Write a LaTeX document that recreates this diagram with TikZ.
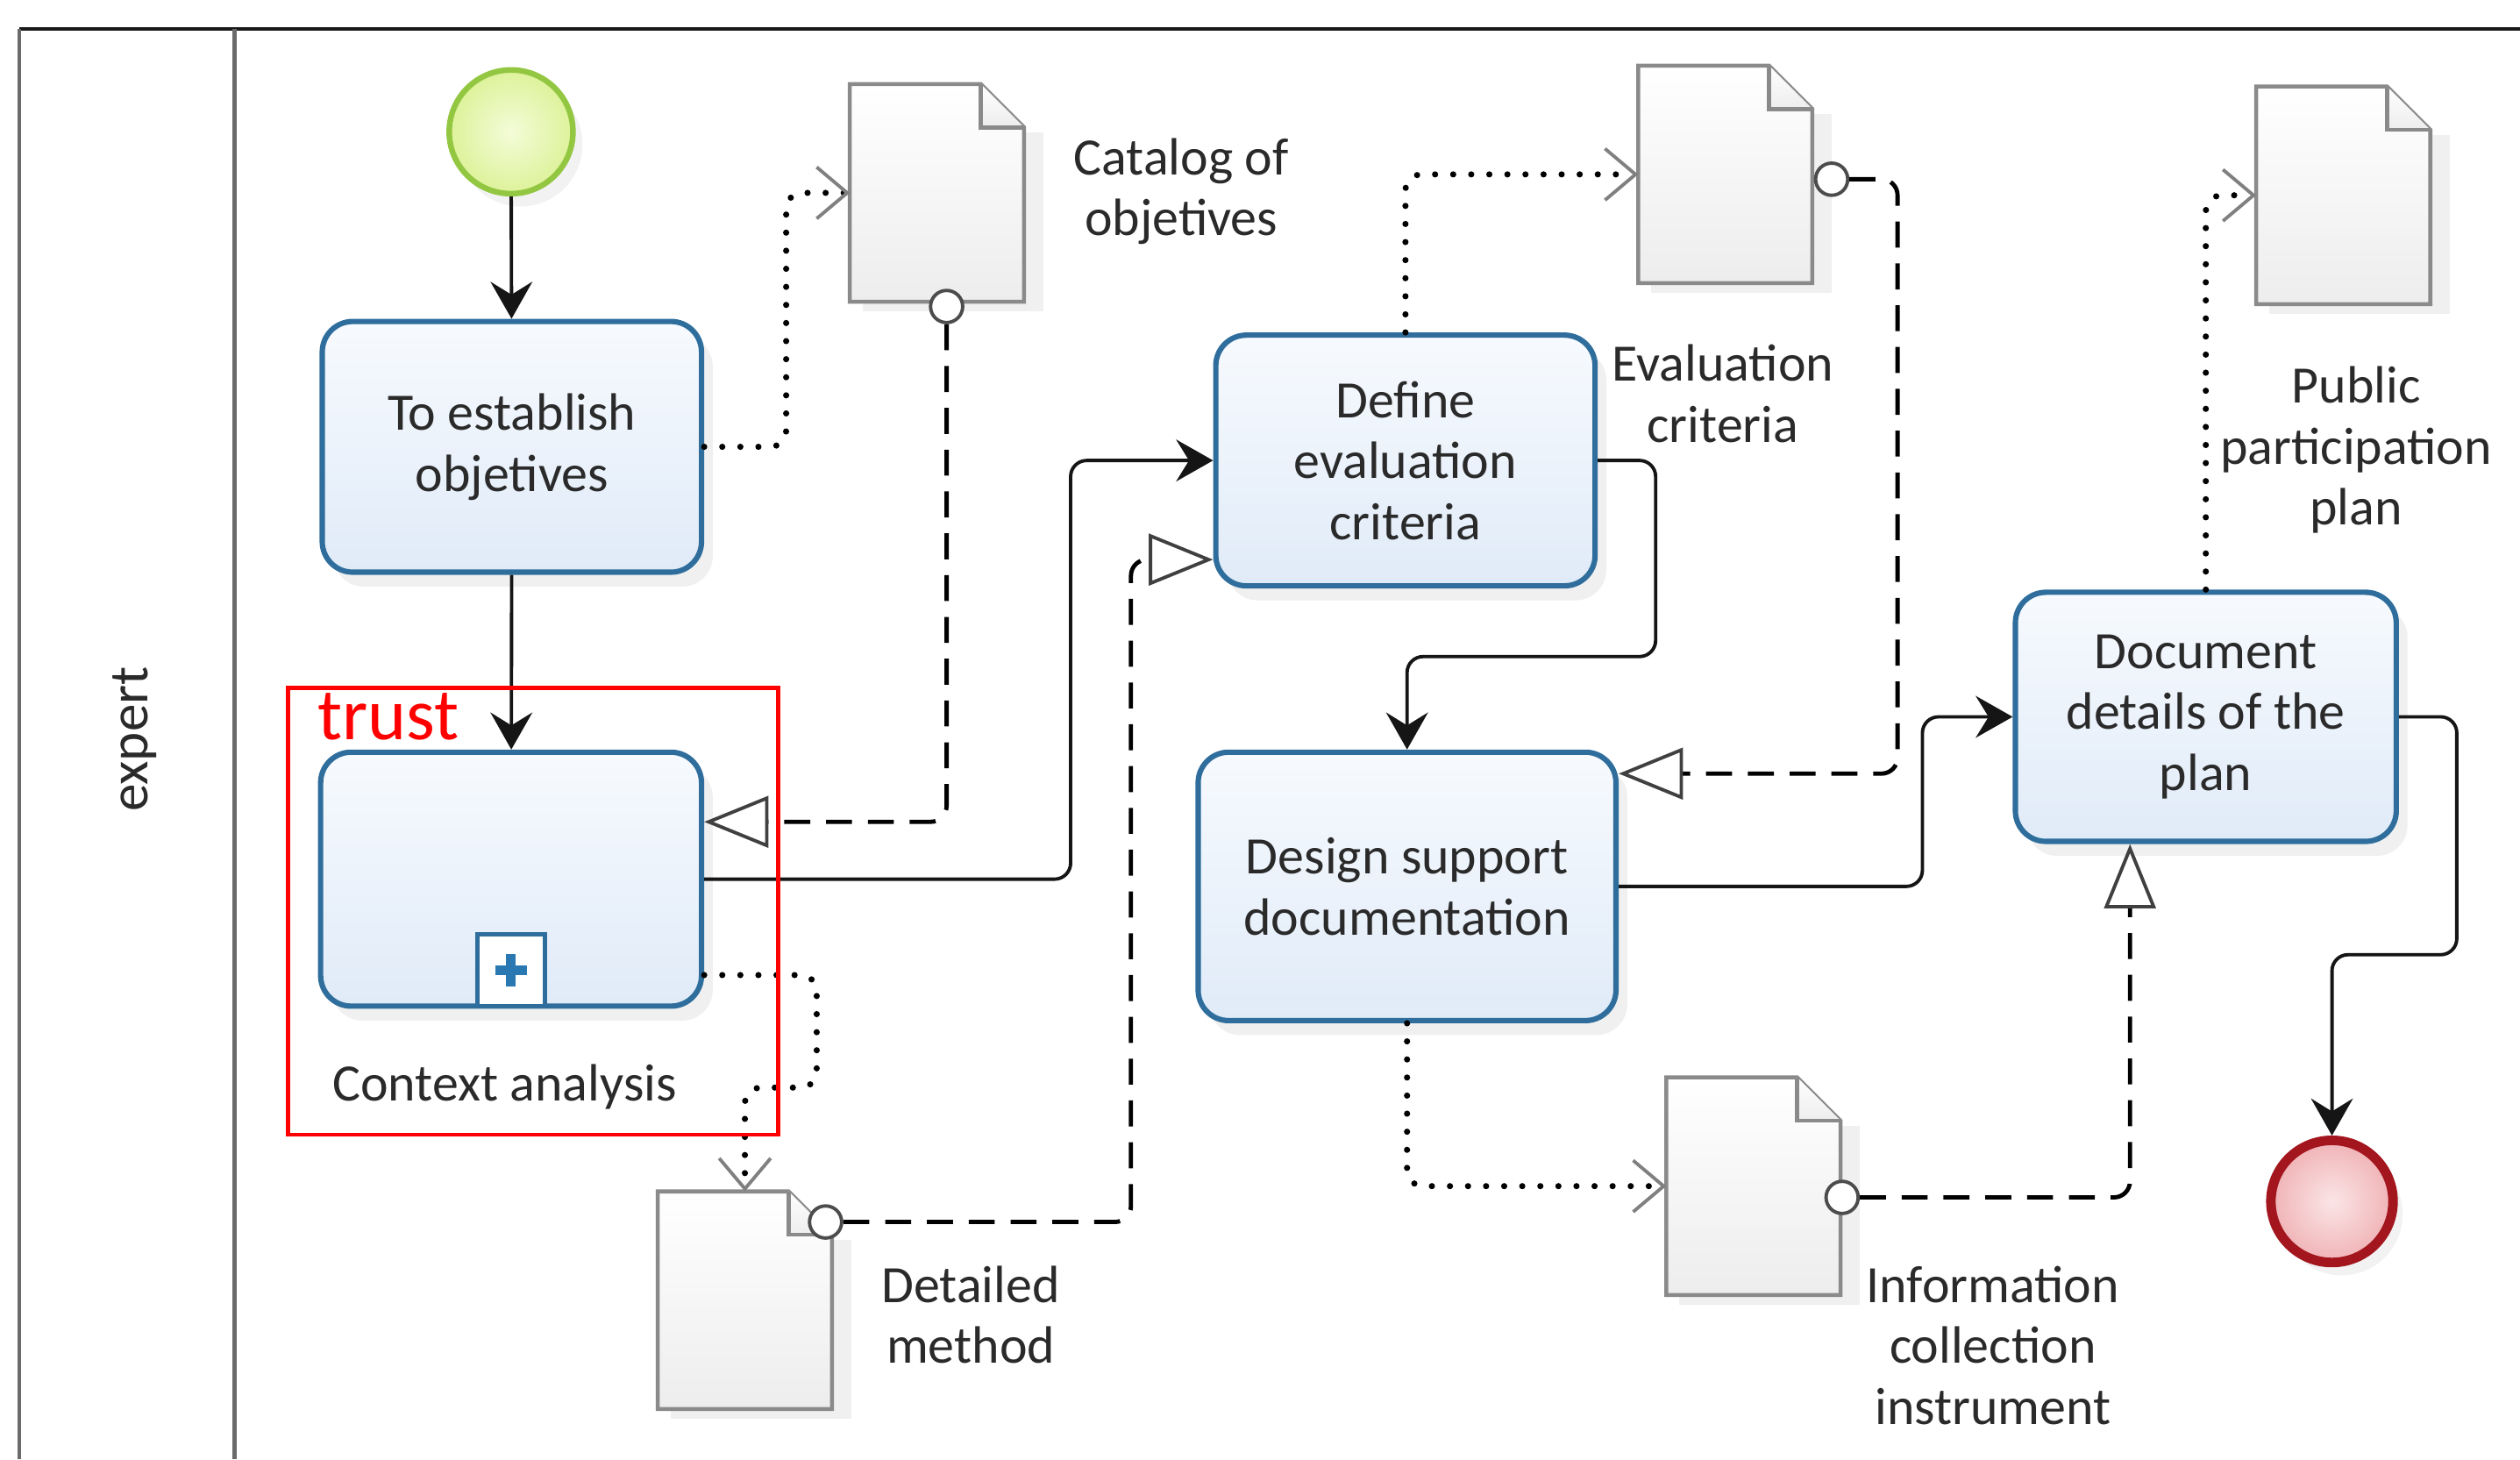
\documentclass[tikz,border=0pt]{standalone}
\usepackage{fontspec}
\setmainfont{Carlito}
\usetikzlibrary{arrows.meta,calc,shadows}

\definecolor{taskbd}{HTML}{2F6E9C}
\definecolor{tasktop}{HTML}{F7FAFE}
\definecolor{taskbot}{HTML}{E0EBF8}
\definecolor{docbd}{HTML}{8A8A8A}
\definecolor{docfill}{HTML}{EDEDED}
\definecolor{startbd}{HTML}{93C741}
\definecolor{startin}{HTML}{F4FCD8}
\definecolor{startout}{HTML}{DDF29A}
\definecolor{endbd}{HTML}{A3161E}
\definecolor{endin}{HTML}{FBE5E6}
\definecolor{endout}{HTML}{F0B3B6}
\definecolor{txt}{HTML}{2A2A2A}
\definecolor{lanebd}{HTML}{6A6A6A}
\definecolor{flow}{HTML}{151515}
\definecolor{plusblue}{HTML}{2A78B2}

\newcommand{\docshape}[1]{%
  \fill[black, opacity=0.06] ($(#1.south west)+(8,6)$) rectangle ($(#1.north east)+(12,30)$);
  \draw[docline] (#1.south west) -- (#1.north west) -- ($(#1.north east)+(-27,0)$) -- ($(#1.north east)+(0,27)$) -- (#1.south east) -- cycle;
  \draw[docline, fill=white] ($(#1.north east)+(-27,0)$) -- ($(#1.north east)+(-27,27)$) -- ($(#1.north east)+(0,27)$);
}

\begin{document}
\begin{tikzpicture}[x=0.1mm, y=-0.1mm,
  font=\fontsize{9.3}{10.8}\selectfont, text=txt,
  task/.style={rectangle, rounded corners=1.9mm, draw=taskbd, line width=0.95pt,
    top color=tasktop, bottom color=taskbot, align=center, inner sep=1mm,
    drop shadow={opacity=0.12, shadow xshift=0.7mm, shadow yshift=-0.9mm}},
  docnode/.style={rectangle, minimum width=10.7mm, minimum height=13.4mm, inner sep=0},
  docline/.style={draw=docbd, line width=0.7pt, top color=white, bottom color=docfill},
  lbl/.style={align=center, inner sep=0},
  port/.style={circle, draw=black!70, fill=white, line width=0.6pt, minimum size=2mm, inner sep=0},
  seq/.style={draw=flow, line width=0.6pt, rounded corners=1mm,
    -{Stealth[length=2.3mm, width=2.6mm, inset=0.8mm]}},
  dout/.style={draw=black, line width=1.1pt, line cap=round, dash pattern=on 0pt off 3.2pt,
    rounded corners=1mm, -{Straight Barb[length=1.9mm, width=3.2mm, color=gray, line width=0.6pt, line cap=butt]}},
  din/.style={draw=black, line width=0.75pt, dash pattern=on 4.6pt off 2.8pt, rounded corners=1mm,
    -{Triangle[length=4mm, width=3.2mm, fill=white, color=black!75, line width=0.6pt]}}
]
\useasboundingbox (0,0) rectangle (1568,908);

% pool and lane
\draw[draw=black!90, line width=0.75pt] (12,18) -- (1568,18);
\draw[draw=lanebd, line width=0.75pt] (12,18) -- (12,908);
\draw[draw=lanebd, line width=0.75pt] (146,18) -- (146,908);
\node[rotate=90, font=\fontsize{9.8}{11}\selectfont] (lane) at (84,460) {expert};

% data objects
\node[docnode] (cat) at (583,120) {};
\node[docnode] (ev) at (1073.5,108.5) {};
\node[docnode] (pub) at (1458,121.5) {};
\node[docnode] (dm) at (463.5,809) {};
\node[docnode] (info) at (1091,738) {};
\docshape{cat}
\docshape{ev}
\docshape{pub}
\docshape{dm}
\docshape{info}

\node[lbl] (catl) at (735,119) {Catalog of\\objetives};
\node[lbl] (evl) at (1072,245) {Evaluation\\criteria};
\node[lbl] (publ) at (1466,280) {Public\\participation\\plan};
\node[lbl] (dml) at (604,818) {Detailed\\method};
\node[lbl] (infol) at (1240,837) {Information\\collection\\instrument};

% events
\node[circle, minimum size=7.7mm, inner sep=0, draw=startbd, line width=1pt,
  inner color=startin, outer color=startout,
  drop shadow={opacity=0.1, shadow xshift=0.6mm, shadow yshift=-0.8mm}] (start) at (318,82) {};
\node[circle, minimum size=7.6mm, inner sep=0, draw=endbd, line width=1.7pt,
  inner color=endin, outer color=endout,
  drop shadow={opacity=0.1, shadow xshift=0.6mm, shadow yshift=-0.8mm}] (end) at (1451,747.5) {};

% tasks
\node[task, minimum width=23.6mm, minimum height=15.6mm] (t1) at (318.5,278) {To establish\\objetives};
\node[task, minimum width=23.7mm, minimum height=15.8mm] (t2) at (318,547) {};
\node[task, minimum width=23.6mm, minimum height=15.6mm] (t3) at (874.5,286.5) {Define\\evaluation\\criteria};
\node[task, minimum width=26mm, minimum height=16.7mm] (t4) at (875.5,551.5) {Design support\\documentation};
\node[task, minimum width=23.7mm, minimum height=15.5mm] (t5) at (1372.5,446) {Document\\details of the\\plan};

% sub-process marker
\node[draw=taskbd, line width=0.8pt, fill=white, minimum width=4.2mm, minimum height=4.5mm,
  inner sep=0, anchor=south] (plus) at (t2.south) {};
\draw[plusblue, line width=1.7pt] ($(plus.center)+(-10,0)$) -- ($(plus.center)+(10,0)$);
\draw[plusblue, line width=1.7pt] ($(plus.center)+(0,-10)$) -- ($(plus.center)+(0,10)$);
\node[lbl] (cal) at (314,676) {Context analysis};

% ports (data input sources)
\node[port] (cc) at ($(cat.south)+(6,3)$) {};
\node[port] (dmc) at ($(dm.north east)+(-4,19)$) {};
\node[port] (evc) at ($(ev.east)+(12,3)$) {};
\node[port] (icc) at ($(info.east)+(1,7)$) {};

% sequence flows
\draw[seq] (start) -- (t1);
\draw[seq] (t1) -- (t2);
\draw[seq] (t2.east) -- ++(228,0) |- (t3.west);
\draw[seq] (t3.east) -- ++(36,0) -- ++(0,122) -| (t4.north);
\draw[seq] (t4.east) -- ++(189,0) |- (t5.west);
\draw[seq] (t5.east) -- ++(36,0) -- ++(0,148) -| (end.north);

% data output associations
\draw[dout] (t1.east) -- ++(51,0) |- (cat.west);
\draw[dout] ($(t2.south east)+(0,-21)$) -- ++(70,0) -- ++(0,70) -| (dm.north);
\draw[dout] (t3.north) |- (ev.west);
\draw[dout] (t4.south) |- (info.west);
\draw[dout] (t5.north) |- (pub.west);

% data input associations
\draw[din] (cc) |- ($(t2.north east)+(0,45)$);
\draw[din] (dmc) -- ++(190,0) |- ($(t3.south west)+(0,-18)$);
\draw[din] (evc) -- ++(41,0) |- ($(t4.north east)+(0,15)$);
\draw[din] (icc) -| ($(t5.south west)+(73,0)$);

% annotation
\node[draw=red, line width=0.75pt, minimum width=30.5mm, minimum height=27.8mm, inner sep=0] (trustbox) at (331.5,567) {};
\node[text=red, font=\fontsize{13}{15}\selectfont, anchor=west, inner sep=0] (trust) at (197,446) {trust};
\end{tikzpicture}
\end{document}
